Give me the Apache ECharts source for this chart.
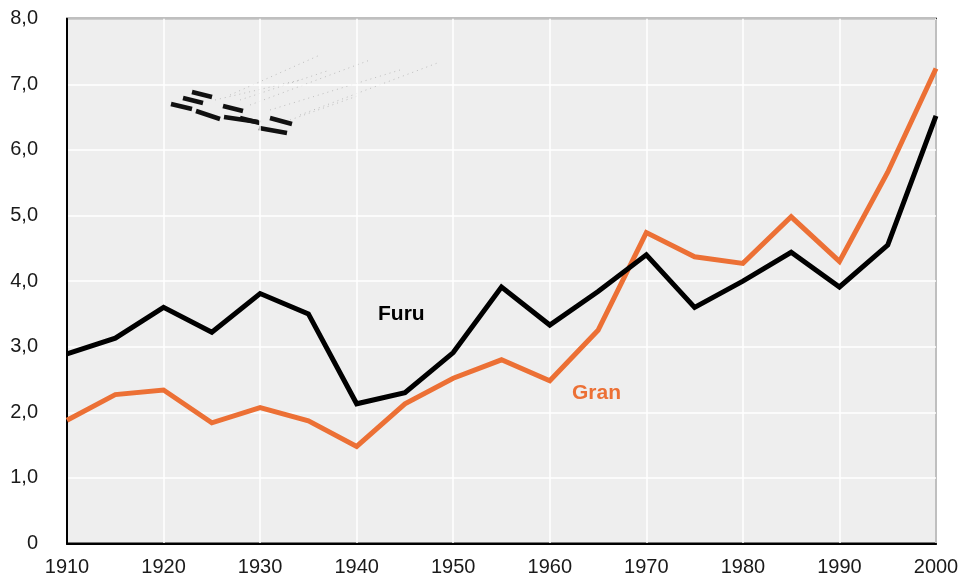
<!DOCTYPE html>
<html>
<head>
<meta charset="utf-8">
<script src="https://cdn.jsdelivr.net/npm/echarts@6/dist/echarts.min.js"></script>
<style>
html,body{margin:0;padding:0;background:#fff;}
#chart{width:959px;height:576px;}
</style>
</head>
<body>
<div id="chart"></div>
<script>
var years = [1910,1915,1920,1925,1930,1935,1940,1945,1950,1955,1960,1965,1970,1975,1980,1985,1990,1995,2000];
var furu = [2.89,3.13,3.60,3.22,3.81,3.50,2.13,2.30,2.91,3.91,3.33,3.84,4.40,3.60,4.00,4.44,3.91,4.55,6.52];
var gran = [1.88,2.27,2.34,1.84,2.07,1.87,1.48,2.13,2.52,2.80,2.48,3.25,4.74,4.37,4.27,4.98,4.30,5.66,7.24];
var seriesNames = ['Furu','Gran'];

var chart = echarts.init(document.getElementById('chart'), null, {renderer:'canvas'});

function pairs(vals){ return years.map(function(y,i){ return [y, vals[i]]; }); }

var font = '"Liberation Sans", Arial, sans-serif';

// decorative broken-legend artifact (upper left)
var artifact = [];
var dashes = [
  [192,92,212,97],[183,98,203,103],[171,104,192,109],[196,111,220,119],
  [223,106,243,111],[224,117,258,122],[240,118,260,123],[270,118,292,124],[259,128,287,133]
];
dashes.forEach(function(d){
  artifact.push({type:'line', shape:{x1:d[0],y1:d[1],x2:d[2],y2:d[3]}, style:{stroke:'#111', lineWidth:4.5}, silent:true});
});
var dots = [
  [230,95,320,55],[240,100,330,70],[250,105,370,60],[270,110,400,70],[300,115,440,62],[290,120,360,95],[215,100,300,80]
];
dots.forEach(function(d){
  artifact.push({type:'line', shape:{x1:d[0],y1:d[1],x2:d[2],y2:d[3]}, style:{stroke:'#bdbdbd', lineWidth:1, lineDash:[1,4]}, silent:true});
});

chart.setOption({
  animation:false,
  backgroundColor:'#ffffff',
  grid:{left:67, right:23, top:18.7, bottom:32.5, outerBoundsMode:'none', containLabel:false,
        show:true, backgroundColor:'#eeeeee', borderColor:'#000', borderWidth:2},
  xAxis:{
    type:'value', min:1910, max:2000, interval:10,
    axisLine:{show:true, lineStyle:{color:'#000', width:2}},
    axisTick:{show:false},
    axisLabel:{color:'#1a1a1a', fontSize:20, fontFamily:font, margin:14,
      formatter:function(v){ return String(v); }},
    splitLine:{show:true, lineStyle:{color:'#ffffff', width:1.5}}
  },
  yAxis:{
    type:'value', min:0, max:8, interval:1,
    axisLine:{show:true, lineStyle:{color:'#000', width:2}},
    axisTick:{show:false},
    axisLabel:{color:'#1a1a1a', fontSize:20, fontFamily:font, margin:29,
      formatter:function(v){ return v===0 ? '0' : v.toFixed(1).replace('.', ','); }},
    splitLine:{show:true, lineStyle:{color:'#ffffff', width:1.5}}
  },
  series:[
    {name:seriesNames[0], type:'line', data:pairs(furu), symbol:'none', z:3,
     lineStyle:{color:'#000000', width:5, join:'miter'}},
    {name:seriesNames[1], type:'line', data:pairs(gran), symbol:'none', z:2,
     lineStyle:{color:'#ec7035', width:5, join:'miter'}}
  ],
  graphic:[
    {type:'text', left:378, top:304, style:{text:seriesNames[0], fill:'#000', font:'bold 21px '+font}, z:10},
    {type:'text', left:572, top:383, style:{text:seriesNames[1], fill:'#ec7035', font:'bold 21px '+font}, z:10}
  ].concat(artifact)
});
</script>
</body>
</html>
